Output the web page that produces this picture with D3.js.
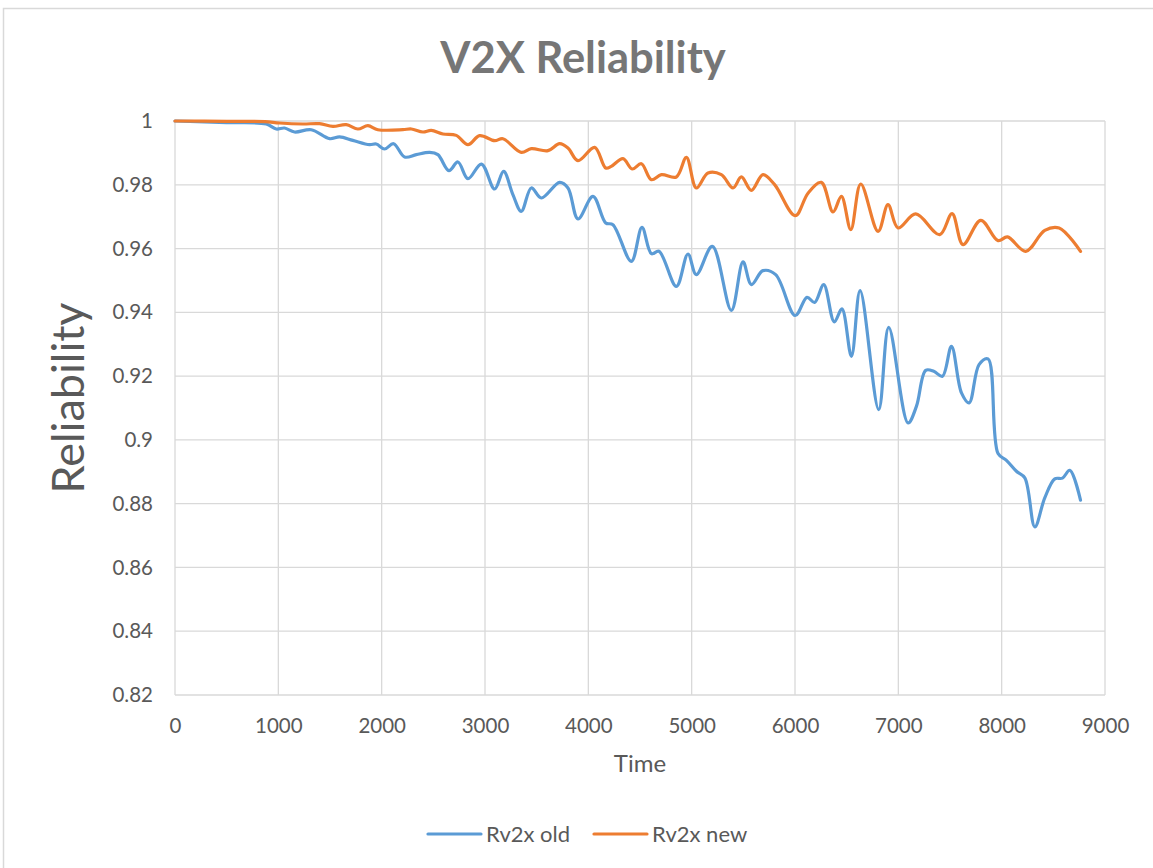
<!DOCTYPE html>
<html>
<head>
<meta charset="utf-8">
<script src="https://cdn.jsdelivr.net/npm/d3@7"></script>
<style>
  body { margin: 0; background: #fff; }
  text { font-family: Lato, "Open Sans", sans-serif; }
</style>
</head>
<body>
<div id="chart"></div>
<script>
// values
var old_time = [0, 500, 883, 980, 1060, 1157, 1318, 1496, 1593, 1721, 1883, 1947, 2028, 2115, 2222, 2335, 2464, 2544, 2651, 2738, 2835, 2965, 3093, 3180, 3270, 3351, 3448, 3545, 3722, 3803, 3900, 4045, 4168, 4238, 4416, 4519, 4610, 4684, 4852, 4964, 5045, 5200, 5384, 5497, 5578, 5690, 5813, 6002, 6116, 6190, 6278, 6380, 6454, 6546, 6630, 6810, 6907, 7094, 7175, 7265, 7343, 7427, 7514, 7611, 7685, 7781, 7868, 7965, 8046, 8143, 8224, 8321, 8417, 8514, 8588, 8659, 8763]
var old_rel = [1, 0.9995, 0.99906, 0.9975, 0.9978, 0.99655, 0.99727, 0.99445, 0.995, 0.99392, 0.99257, 0.99279, 0.99122, 0.99288, 0.98871, 0.98944, 0.99016, 0.98944, 0.98442, 0.98715, 0.98191, 0.9865, 0.97868, 0.9842, 0.9769, 0.97166, 0.979, 0.97586, 0.98076, 0.979, 0.96928, 0.97636, 0.96803, 0.9675, 0.956, 0.96665, 0.9584, 0.95913, 0.94815, 0.9583, 0.95182, 0.9607, 0.94063, 0.9558, 0.9487, 0.95307, 0.95182, 0.939, 0.9447, 0.9431, 0.9487, 0.937, 0.9411, 0.92621, 0.9468, 0.9095, 0.9353, 0.90533, 0.9105, 0.92182, 0.9215, 0.91994, 0.92934, 0.91473, 0.9116, 0.9236, 0.92539, 0.8957, 0.8936, 0.89016, 0.8881, 0.87273, 0.88182, 0.8878, 0.888, 0.89047, 0.8811]

var new_time = [0, 500, 870, 1011, 1237, 1399, 1528, 1657, 1770, 1867, 1963, 2205, 2287, 2399, 2480, 2593, 2722, 2835, 2948, 3093, 3173, 3351, 3448, 3609, 3722, 3803, 3900, 4061, 4168, 4222, 4335, 4425, 4513, 4610, 4707, 4852, 4949, 5045, 5158, 5287, 5400, 5481, 5578, 5690, 5803, 6002, 6126, 6255, 6368, 6449, 6540, 6636, 6804, 6900, 6997, 7168, 7401, 7520, 7626, 7798, 7965, 8056, 8233, 8417, 8556, 8763]
var new_rel = [1, 0.9999, 0.9998, 0.99937, 0.99906, 0.99916, 0.99831, 0.99884, 0.99749, 0.99853, 0.99727, 0.99727, 0.99749, 0.99655, 0.99705, 0.99592, 0.99549, 0.99257, 0.9954, 0.99382, 0.99445, 0.99016, 0.99132, 0.99069, 0.99288, 0.99153, 0.98755, 0.99174, 0.98527, 0.98577, 0.98818, 0.98495, 0.98661, 0.9816, 0.98317, 0.98245, 0.98859, 0.979, 0.9837, 0.98317, 0.979, 0.98245, 0.97825, 0.98317, 0.98003, 0.9703, 0.97737, 0.98076, 0.97147, 0.97636, 0.96593, 0.98025, 0.96539, 0.97376, 0.96646, 0.97085, 0.96436, 0.97094, 0.96122, 0.96884, 0.96248, 0.96364, 0.95913, 0.96571, 0.96646, 0.95913]

var x_ticks = [0, 1000, 2000, 3000, 4000, 5000, 6000, 7000, 8000, 9000]
var y_ticks = [0.82, 0.84, 0.86, 0.88, 0.9, 0.92, 0.94, 0.96, 0.98, 1]
var series_names = ['Rv2x old', 'Rv2x new']
var series_colors = ['#5B9BD5', '#ED7D31']

const width = 1153,
      height = 868,
      margin = {top: 121, right: 48, bottom: 173, left: 175}

var svg = d3.select('#chart')
    .append('svg')
    .attr('width', width)
    .attr('height', height)

// outer chart frame (cut off at right and bottom like the screenshot)
svg.append('rect')
    .attr('x', 3.5).attr('y', 8.5)
    .attr('width', width + 10).attr('height', height + 10)
    .attr('fill', 'none')
    .attr('stroke', '#D9D9D9')
    .attr('stroke-width', 1.5)

var x = d3.scaleLinear()
    .domain([0, 9000])
    .range([margin.left, width - margin.right])

var y = d3.scaleLinear()
    .domain([0.82, 1])
    .range([height - margin.bottom, margin.top])

// grid
svg.append('g')
    .selectAll('line')
    .data(y_ticks)
    .enter()
    .append('line')
    .attr('x1', x(0)).attr('x2', x(9000))
    .attr('y1', d => y(d)).attr('y2', d => y(d))
    .attr('stroke', '#D9D9D9')
    .attr('stroke-width', 1.3)

svg.append('g')
    .selectAll('line')
    .data(x_ticks)
    .enter()
    .append('line')
    .attr('x1', d => x(d)).attr('x2', d => x(d))
    .attr('y1', y(0.82)).attr('y2', y(1))
    .attr('stroke', '#D9D9D9')
    .attr('stroke-width', 1.3)

// axes (labels only)
var x_axis = svg.append('g')
    .attr('transform', 'translate(0,' + y(0.82) + ')')
    .call(d3.axisBottom(x).tickValues(x_ticks).tickSize(0).tickPadding(23).tickFormat(d3.format('d')))
x_axis.select('.domain').remove()

var y_axis = svg.append('g')
    .attr('transform', 'translate(' + x(0) + ',0)')
    .call(d3.axisLeft(y).tickValues(y_ticks).tickSize(0).tickPadding(22).tickFormat(d => d3.format('')(+d.toFixed(2))))
y_axis.select('.domain').remove()

svg.selectAll('.tick text')
    .attr('fill', '#595959')
    .style('font-size', '20.5px')
    .style('font-family', 'Lato, "Open Sans", sans-serif')

// lines
var line = d3.line()
    .x(d => x(d[0]))
    .y(d => y(d[1]))
    .curve(d3.curveCatmullRom.alpha(0.5))

var series = [
    d3.zip(old_time, old_rel),
    d3.zip(new_time, new_rel)
]

svg.append('g')
    .selectAll('path')
    .data(series)
    .enter()
    .append('path')
    .attr('d', line)
    .attr('fill', 'none')
    .attr('stroke', (d, i) => series_colors[i])
    .attr('stroke-width', 3.2)
    .attr('stroke-linejoin', 'round')
    .attr('stroke-linecap', 'round')

// titles
svg.append('text')
    .attr('x', 583).attr('y', 73)
    .attr('text-anchor', 'middle')
    .attr('fill', '#767676')
    .style('font-size', '43.5px')
    .style('font-weight', 'bold')
    .text('V2X Reliability')

svg.append('text')
    .attr('x', 640).attr('y', 772)
    .attr('text-anchor', 'middle')
    .attr('fill', '#595959')
    .style('font-size', '24px')
    .text('Time')

svg.append('text')
    .attr('transform', 'translate(84,398) rotate(-90)')
    .attr('text-anchor', 'middle')
    .attr('fill', '#595959')
    .style('font-size', '45px')
    .text('Reliability')

// legend
var legend_x = [428, 594]
var legend = svg.append('g')
    .selectAll('g')
    .data(series_names)
    .enter()
    .append('g')
    .attr('transform', (d, i) => 'translate(' + legend_x[i] + ',834)')

legend.append('line')
    .attr('x1', 0).attr('x2', 53)
    .attr('stroke', (d, i) => series_colors[i])
    .attr('stroke-width', 3.2)
    .attr('stroke-linecap', 'round')

legend.append('text')
    .attr('x', 58).attr('y', 8)
    .attr('fill', '#595959')
    .style('font-size', '22px')
    .text(d => d)
</script>
</body>
</html>
